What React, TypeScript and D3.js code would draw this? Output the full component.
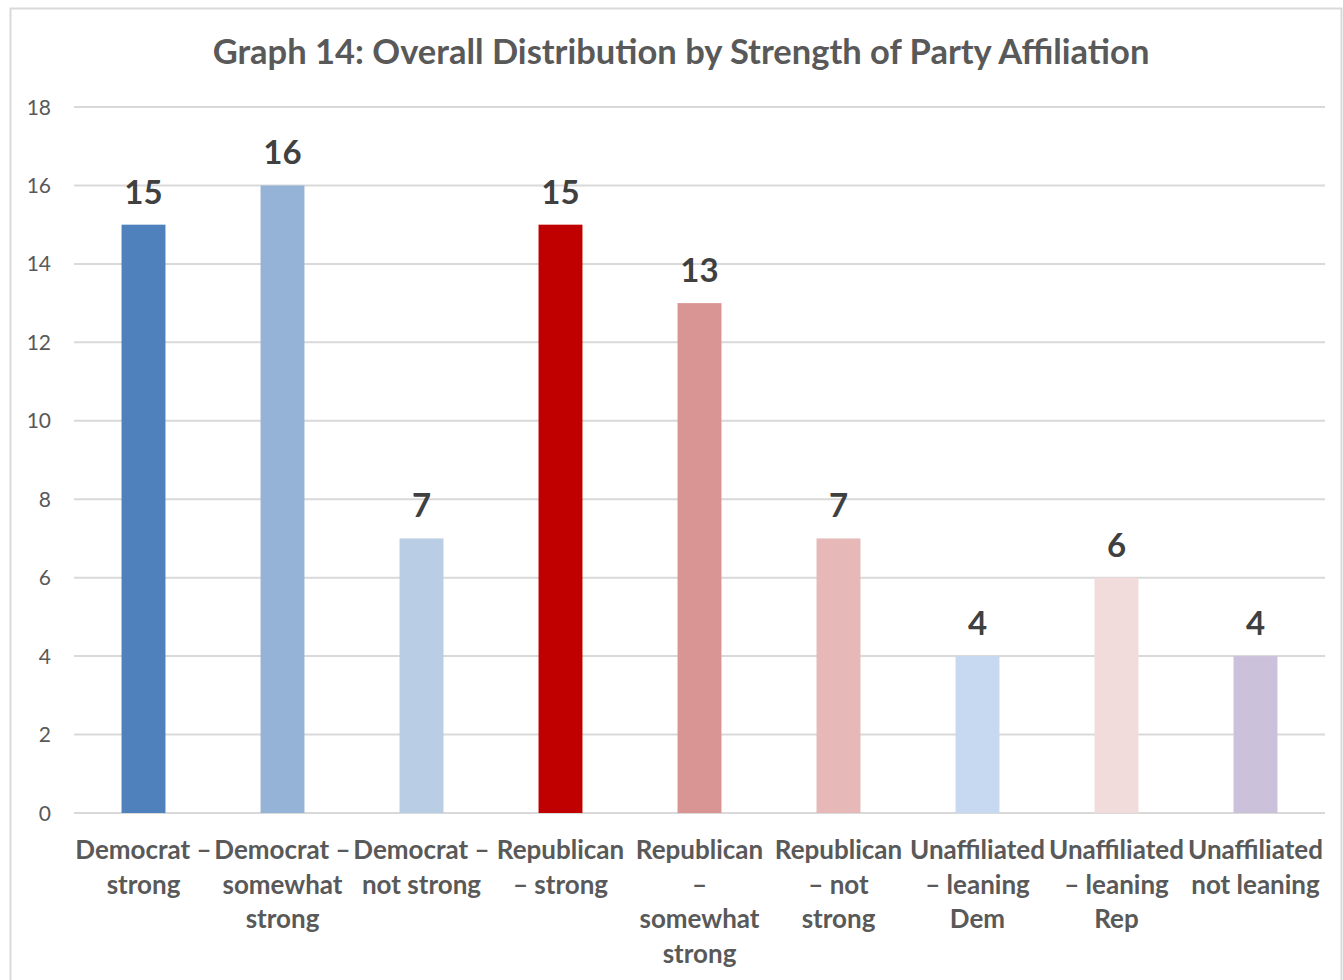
import React from "react";
import * as d3 from "d3";

const categories = [
  "Democrat – strong",
  "Democrat – somewhat strong",
  "Democrat – not strong",
  "Republican – strong",
  "Republican – somewhat strong",
  "Republican – not strong",
  "Unaffiliated – leaning Dem",
  "Unaffiliated – leaning Rep",
  "Unaffiliated not leaning",
];
const labelLines = [
  ["Democrat –", "strong"],
  ["Democrat –", "somewhat", "strong"],
  ["Democrat –", "not strong"],
  ["Republican", "– strong"],
  ["Republican", "–", "somewhat", "strong"],
  ["Republican", "– not", "strong"],
  ["Unaffiliated", "– leaning", "Dem"],
  ["Unaffiliated", "– leaning", "Rep"],
  ["Unaffiliated", "not leaning"],
];
const values = [15, 16, 7, 15, 13, 7, 4, 6, 4];
const colors = ["#4F81BD", "#95B3D7", "#B9CDE5", "#C00000", "#D99594", "#E6B9B8", "#C6D9F1", "#F2DCDB", "#CCC1DA"];
const yTicks = [0, 2, 4, 6, 8, 10, 12, 14, 16, 18];
const title = "Graph 14: Overall Distribution by Strength of Party Affiliation";

const W = 1343, H = 980;
const plot = { left: 74, right: 1325, top: 107, bottom: 813 };
const font = "Lato, 'Open Sans', sans-serif";

export default function App() {
  const x = d3.scaleBand<string>().domain(categories).range([plot.left, plot.right]).paddingInner(0.684).paddingOuter(0.342);
  const y = d3.scaleLinear().domain([0, 18]).range([plot.bottom, plot.top]);
  return (
    <svg width={W} height={H} style={{ position: "absolute", left: 0, top: 0, background: "#fff" }}>
      <rect x={10.5} y={8.5} width={1331} height={990} fill="#fff" stroke="#d9d9d9" strokeWidth={2} />
      <text x={681} y={64} textAnchor="middle" fontFamily={font} fontWeight={700} fontSize={34.5} fill="#595959">{title}</text>
      {yTicks.map((t) => (
        <g key={t}>
          <line x1={plot.left} x2={plot.right} y1={y(t)} y2={y(t)} stroke="#d9d9d9" strokeWidth={2} />
          <text x={51} y={y(t) + 7.5} textAnchor="end" fontFamily={font} fontSize={21} fill="#595959">{t}</text>
        </g>
      ))}
      {categories.map((c, i) => (
        <g key={c}>
          <rect x={x(c)} y={y(values[i])} width={x.bandwidth()} height={y(0) - y(values[i])} fill={colors[i]} />
          <text x={x(c)! + x.bandwidth() / 2} y={y(values[i]) - 21} textAnchor="middle" fontFamily={font} fontWeight={700} fontSize={33} fill="#404040">{values[i]}</text>
          {labelLines[i].map((l, j) => (
            <text key={j} x={x(c)! + x.bandwidth() / 2} y={859 + j * 34.5} textAnchor="middle" fontFamily={font} fontWeight={700} fontSize={26} fill="#595959">{l}</text>
          ))}
        </g>
      ))}
    </svg>
  );
}
